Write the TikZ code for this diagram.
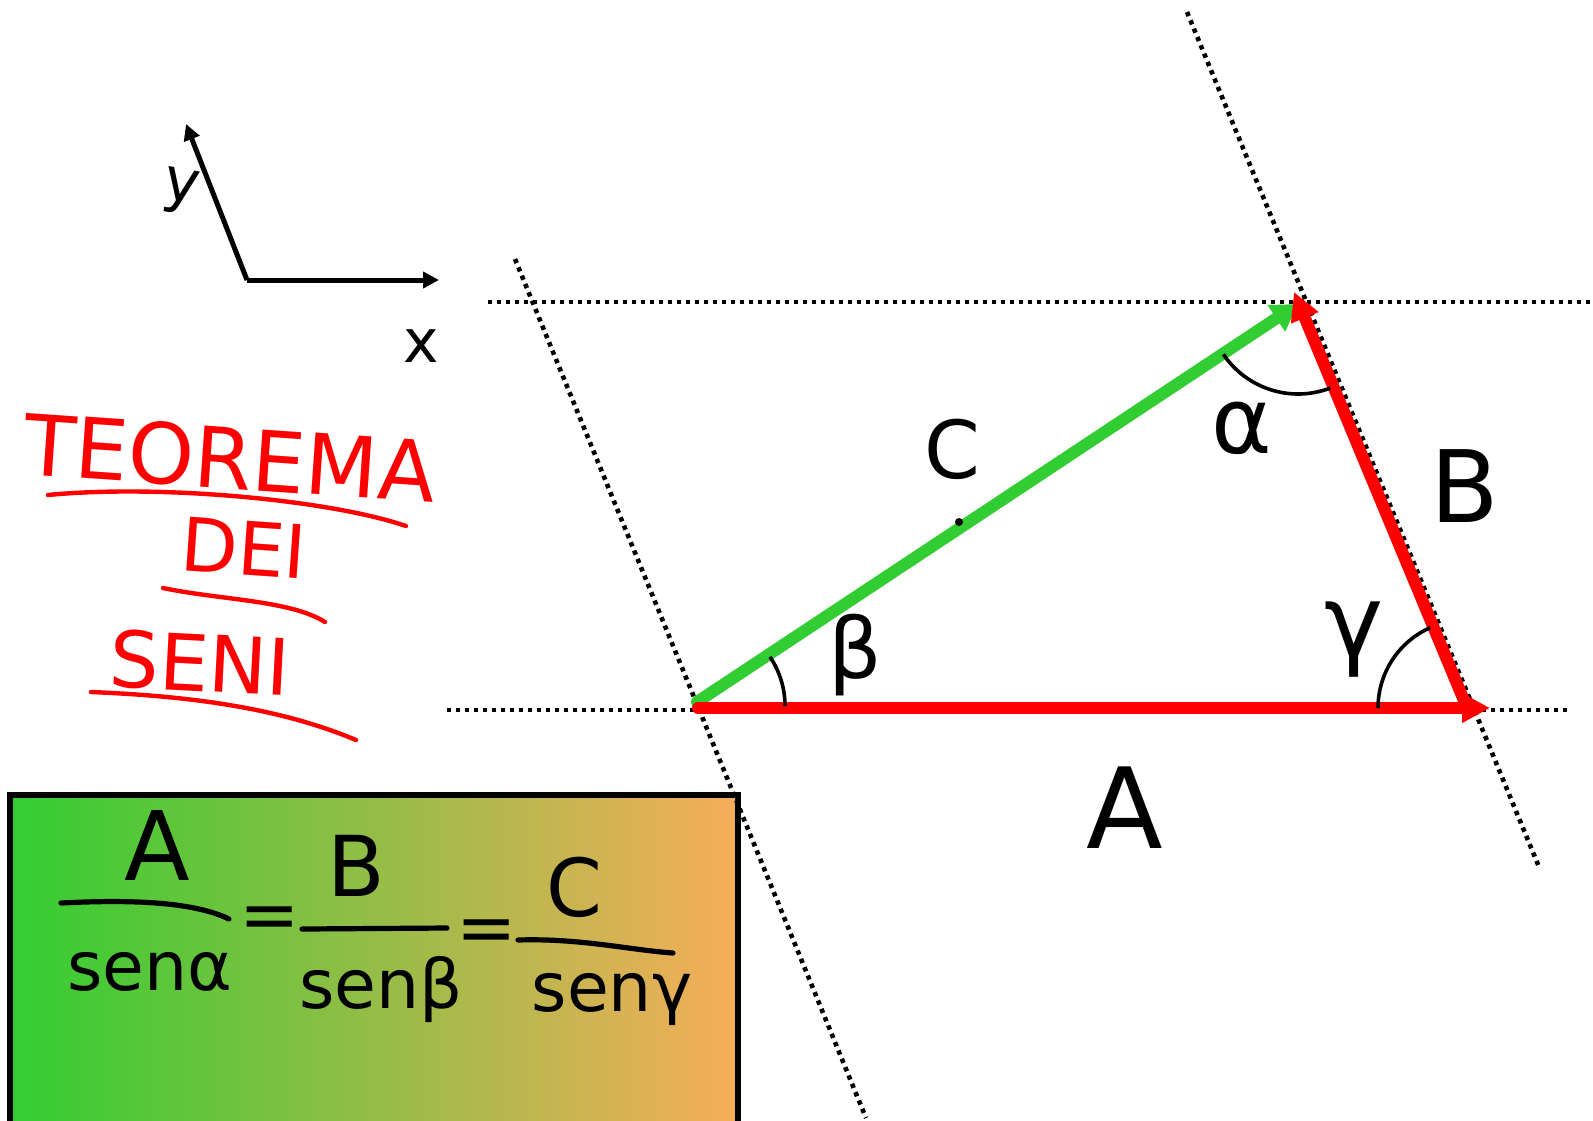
\documentclass[tikz,border=0pt]{standalone}
\usepackage{fontspec}
\setmainfont{DejaVu Sans}
\usetikzlibrary{arrows.meta}
\definecolor{greenC}{RGB}{50,205,50}
\definecolor{redA}{RGB}{255,0,0}
\definecolor{boxL}{RGB}{50,205,50}
\definecolor{boxR}{RGB}{247,173,90}
\begin{document}
\begin{tikzpicture}[x=0.5pt,y=-0.5pt,
  dotline/.style={line width=2.3pt, dash pattern=on 2.2pt off 2.3pt},
  vecred/.style={draw=redA, line width=6pt, line cap=round, -{Triangle[length=14pt,width=14pt]}},
  vecgreen/.style={draw=greenC, line width=6pt, line cap=round, -{Triangle[length=13pt,width=15pt]}},
  anglearc/.style={draw=black, line width=1.8pt},
  axisline/.style={draw=black, line width=2.5pt, -{Triangle[length=8pt,width=8pt]}},
  hand/.style={inner sep=0pt, text=black},
  titletext/.style={inner sep=0pt, text=redA},
  redline/.style={draw=redA, line width=2.2pt, line cap=round},
  fracline/.style={draw=black, line width=2.6pt, line cap=round},
  boxframe/.style={draw=black, line width=2.6pt}
]
\useasboundingbox (0,0) rectangle (1593,1120);

% ---------- formula box ----------
\shade[left color=boxL, right color=boxR] (10,795) rectangle (738,1130);
\draw[boxframe] (10,1130) -- (10,795) -- (738,795) -- (738,1130);

% ---------- dotted guide lines ----------
\coordinate (h1a) at (488,302);  \coordinate (h1b) at (1593,302);
\coordinate (h2a) at (447,710);  \coordinate (h2b) at (1570,710);
\coordinate (s1a) at (515,259);  \coordinate (s1b) at (866,1118);
\coordinate (s2a) at (1187,12);  \coordinate (s2b) at (1539,867);
\draw[dotline] (h1a) -- (h1b);
\draw[dotline] (h2a) -- (h2b);
\draw[dotline] (s1a) -- (s1b);
\draw[dotline] (s2a) -- (s2b);

% ---------- triangle vertices ----------
\coordinate (O) at (697,706);
\coordinate (Cst) at (697,702);
\coordinate (T) at (1298,304);
\coordinate (Q) at (1465,703);
\coordinate (Atip) at (1490,708);
\coordinate (Ast) at (698,708);
\coordinate (Btip) at (1294,292);

\draw[vecgreen] (Cst) -- (T);
\draw[vecred] (Ast) -- (Atip);
\draw[vecred] (Q) -- (Btip);

% midpoint dot on C
\coordinate (Cdot) at (959,522);
\fill (Cdot) circle[radius=4];

% ---------- angle arcs ----------
\draw[anglearc] (O) ++(0:88) arc[start angle=0, end angle=-34, radius=88];
\draw[anglearc] (T) ++(146:90) arc[start angle=146, end angle=69, radius=90];
\draw[anglearc] (1466,708) ++(180:88) arc[start angle=180, end angle=246, radius=88];

% ---------- side and angle labels ----------
\node[hand, font=\fontsize{40}{40}\selectfont] (labC) at (952,449) {C};
\node[hand, font=\fontsize{50}{50}\selectfont] (labB) at (1465,486) {B};
\node[hand, font=\fontsize{56}{56}\selectfont] (labA) at (1125,808) {A};
\node[hand, font=\fontsize{46}{46}\selectfont] (labal) at (1242,428) {α};
\node[hand, font=\fontsize{42}{42}\selectfont] (labbe) at (855,655) {β};
\node[hand, font=\fontsize{50}{50}\selectfont] (labga) at (1354,640) {γ};

% ---------- axes ----------
\coordinate (Org) at (247,280);
\coordinate (Xtip) at (439,280);
\coordinate (Ytip) at (186,124);
\draw[axisline] (Org) -- (Xtip);
\draw[axisline] (Org) -- (Ytip);
\node[hand, font=\fontsize{30}{30}\selectfont] (labx) at (421,346) {x};
\node[hand, font=\fontsize{30}{30}\selectfont, rotate=-10] (laby) at (181,192) {y};

% ---------- title ----------
\node[titletext, font=\fontsize{42}{42}\selectfont, rotate=-4] (t1) at (230,458) {TEOREMA};
\node[titletext, font=\fontsize{37}{37}\selectfont, rotate=-4] (t2) at (244,548) {DEI};
\node[titletext, font=\fontsize{39}{39}\selectfont, rotate=-3] (t3) at (200,663) {SENI};
\coordinate (u1a) at (48,495);  \coordinate (u1b) at (406,526);
\coordinate (u2a) at (163,588); \coordinate (u2b) at (325,622);
\coordinate (u3a) at (91,692);  \coordinate (u3b) at (356,740);
\draw[redline] (u1a) .. controls (160,484) and (330,500) .. (u1b);
\draw[redline] (u2a) .. controls (220,600) and (290,600) .. (u2b);
\draw[redline] (u3a) .. controls (190,696) and (280,708) .. (u3b);

% ---------- formula ----------
\node[hand, font=\fontsize{48}{48}\selectfont] (fA) at (157,845) {A};
\node[hand, font=\fontsize{34}{34}\selectfont] (fsa) at (150,972) {senα};
\coordinate (f1a) at (61,903); \coordinate (f1b) at (229,919);
\draw[fracline] (f1a) .. controls (120,900) and (190,900) .. (f1b);
\node[hand, font=\fontsize{36}{36}\selectfont] (eq1) at (270,923) {=};
\node[hand, font=\fontsize{42}{42}\selectfont] (fB) at (356,866) {B};
\node[hand, font=\fontsize{34}{34}\selectfont] (fsb) at (381,990) {senβ};
\coordinate (f2a) at (302,929); \coordinate (f2b) at (447,928);
\draw[fracline] (f2a) -- (f2b);
\node[hand, font=\fontsize{36}{36}\selectfont] (eq2) at (487,936) {=};
\node[hand, font=\fontsize{40}{40}\selectfont] (fC) at (574,887) {C};
\node[hand, font=\fontsize{34}{34}\selectfont] (fsg) at (612,1000) {senγ};
\coordinate (f3a) at (518,940); \coordinate (f3b) at (673,953);
\draw[fracline] (f3a) .. controls (580,938) and (630,950) .. (f3b);
\end{tikzpicture}
\end{document}
